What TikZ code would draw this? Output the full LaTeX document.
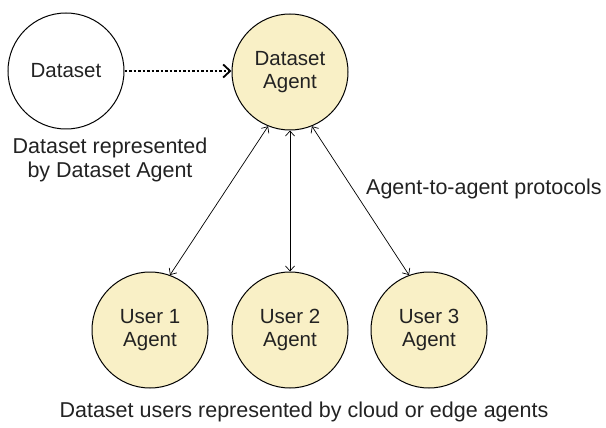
\documentclass[tikz,border=0pt]{standalone}
\usepackage{fontspec}
\setmainfont{Liberation Sans}
\usetikzlibrary{arrows.meta}
\definecolor{agentfill}{HTML}{F9F0C6}
\definecolor{txt}{HTML}{222222}
\begin{document}
\begin{tikzpicture}[x=1pt,y=-1pt,
  circ/.style={circle,draw=black,line width=1pt,minimum size=116pt,inner sep=0pt,align=center,font=\fontsize{20.5}{23.5}\selectfont,text=txt},
  agent/.style={circ,fill=agentfill},
  lbl/.style={font=\fontsize{21.5}{24}\selectfont,text=txt,inner sep=0pt},
  link/.style={line width=0.7pt,{Straight Barb[length=5pt,width=9pt]}-{Straight Barb[length=5pt,width=9pt]}},
  feed/.style={line width=2.5pt,dash pattern=on 2.5pt off 2pt,-{Straight Barb[length=7pt,width=13pt,line width=1.8pt]}}]
\useasboundingbox (0,0) rectangle (606,428);
\node[circ] (ds) at (66,71) {Dataset};
\node[agent] (da) at (290,72) {Dataset\\Agent};
\node[agent] (u1) at (150,330) {User 1\\Agent};
\node[agent] (u2) at (290,330) {User 2\\Agent};
\node[agent] (u3) at (429,330) {User 3\\Agent};
\draw[feed] (ds.east) -- (da.west |- ds.east);
\draw[link] (da.-112) -- (u1.70);
\draw[link] (da.-90) -- (u2.90);
\draw[link] (da.-68) -- (u3.110);
\node[lbl,align=center] (dsl) at (110,160) {Dataset represented\\by Dataset Agent};
\node[lbl,anchor=west] (proto) at (366,189) {Agent-to-agent protocols};
\node[lbl] (users) at (304,412) {Dataset users represented by cloud or edge agents};
\end{tikzpicture}
\end{document}
